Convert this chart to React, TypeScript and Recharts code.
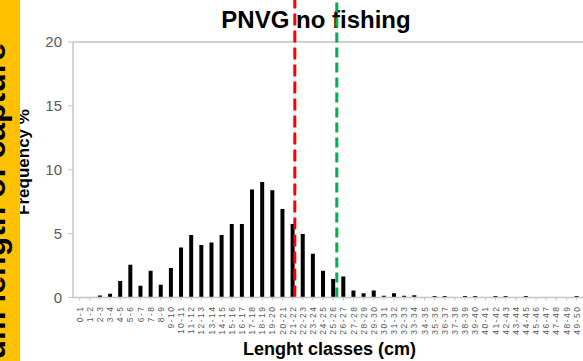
import React from 'react';
import { BarChart, Bar, XAxis, YAxis, ReferenceLine } from 'recharts';

const CLASS_LABELS: string[] = [
  '0-1', '1-2', '2-3', '3-4', '4-5', '5-6', '6-7', '7-8', '8-9', '9-10',
  '10-11', '11-12', '12-13', '13-14', '14-15', '15-16', '16-17', '17-18', '18-19', '19-20',
  '20-21', '21-22', '22-23', '23-24', '24-25', '25-26', '26-27', '27-28', '28-29', '29-30',
  '30-31', '31-32', '32-33', '33-34', '34-35', '35-36', '36-37', '37-38', '38-39', '39-40',
  '40-41', '41-42', '42-43', '43-44', '44-45', '45-46', '46-47', '47-48', '48-49', '49-50',
  '50-51', '51-52',
];

const FREQUENCY: number[] = [
  0, 0, 0.15, 0.3, 1.3, 2.56, 0.92, 2.1, 1.0, 2.3,
  3.92, 4.9, 4.1, 4.3, 4.9, 5.75, 5.75, 8.45, 9.05, 8.4,
  6.93, 5.75, 4.97, 3.42, 2.1, 1.44, 1.65, 0.55, 0.34, 0.55,
  0.13, 0.34, 0.13, 0.18, 0, 0.12, 0.12, 0, 0.12, 0.12,
  0, 0.12, 0.12, 0, 0.12, 0, 0, 0, 0, 0.12,
  0, 0,
];

const Y_TICKS: number[] = [0, 5, 10, 15, 20];
const RED_LINE_POS = 21.21;
const GREEN_LINE_POS = 25.35;

const TITLE = 'PNVG no fishing';
const X_TITLE = 'Lenght classes (cm)';
const Y_TITLE = 'Frequency %';
const STRIP_TEXT = 'Minimum length of capture';

const FONT = '"Liberation Sans", Arial, Helvetica, sans-serif';

const data = CLASS_LABELS.map((label, i) => ({ i, label, freq: FREQUENCY[i] }));
const xTicks = CLASS_LABELS.map((_, i) => i);

const XTick = (props: any) => {
  const { x, y, payload } = props;
  return (
    <text
      x={x}
      y={y}
      transform={`rotate(-90 ${x} ${y})`}
      textAnchor="end"
      dominantBaseline="central"
      fontSize={8.5}
      fill="#595959"
      fontFamily={FONT}
      style={{ letterSpacing: '1.5px' }}
    >
      {CLASS_LABELS[payload.value]}
    </text>
  );
};

export default function App() {
  return (
    <div
      style={{
        position: 'absolute',
        left: 0,
        top: 0,
        width: 583,
        height: 361,
        overflow: 'hidden',
        background: '#ffffff',
      }}
    >
      <svg width={583} height={361} style={{ position: 'absolute', left: 0, top: 0 }}>
        <text x={316} y={28} textAnchor="middle" fontSize={24} fontWeight="bold" fontFamily={FONT} fill="#000">
          {TITLE}
        </text>
        <text x={329.5} y={355} textAnchor="middle" fontSize={18} fontWeight="bold" fontFamily={FONT} fill="#000">
          {X_TITLE}
        </text>
        <text
          transform="translate(29,162) rotate(-90)"
          textAnchor="middle"
          fontSize={17}
          fontWeight="bold"
          fontFamily={FONT}
          fill="#000"
        >
          {Y_TITLE}
        </text>
      </svg>
      <div style={{ position: 'absolute', left: 0, top: 0 }}>
        <BarChart
          width={620}
          height={361}
          data={data}
          margin={{ top: 42, right: 18, bottom: 23.5, left: 0 }}
        >
          <XAxis
            type="number"
            dataKey="i"
            domain={[-0.66, 51.5]}
            allowDataOverflow
            ticks={xTicks}
            interval={0}
            height={40}
            tick={<XTick />}
            tickSize={3}
            tickMargin={5}
            axisLine={{ stroke: '#c6c6c6', strokeWidth: 1.5 }}
            tickLine={{ stroke: '#c6c6c6' }}
          />
          <YAxis
            type="number"
            domain={[0, 20]}
            allowDataOverflow
            ticks={Y_TICKS}
            width={73}
            tickSize={5}
            tickMargin={6}
            tick={{ fontSize: 15, fill: '#595959', fontFamily: FONT }}
            axisLine={{ stroke: '#c6c6c6', strokeWidth: 1.5 }}
            tickLine={{ stroke: '#c6c6c6' }}
          />
          <ReferenceLine y={20} stroke="#d0d0d0" strokeWidth={2} />
          <Bar dataKey="freq" fill="#000000" barSize={4} isAnimationActive={false} />
          <ReferenceLine
            segment={[{ x: RED_LINE_POS, y: 0 }, { x: RED_LINE_POS, y: 23.4 }]}
            ifOverflow="visible"
            stroke="#ff0000"
            strokeWidth={3}
            strokeDasharray="12 5"
          />
          <ReferenceLine
            segment={[{ x: GREEN_LINE_POS, y: 0 }, { x: GREEN_LINE_POS, y: 23.4 }]}
            ifOverflow="visible"
            stroke="#00b050"
            strokeWidth={3}
            strokeDasharray="10 5"
          />
        </BarChart>
      </div>
      <svg width={20} height={361} style={{ position: 'absolute', left: 0, top: 0 }}>
        <rect x={0} y={0} width={20} height={361} fill="#ffc000" />
        <text
          transform="translate(5,43) rotate(-90)"
          textAnchor="end"
          fontSize={32}
          fontWeight="bold"
          fontFamily={FONT}
          fill="#000"
        >
          {STRIP_TEXT}
        </text>
      </svg>
    </div>
  );
}
